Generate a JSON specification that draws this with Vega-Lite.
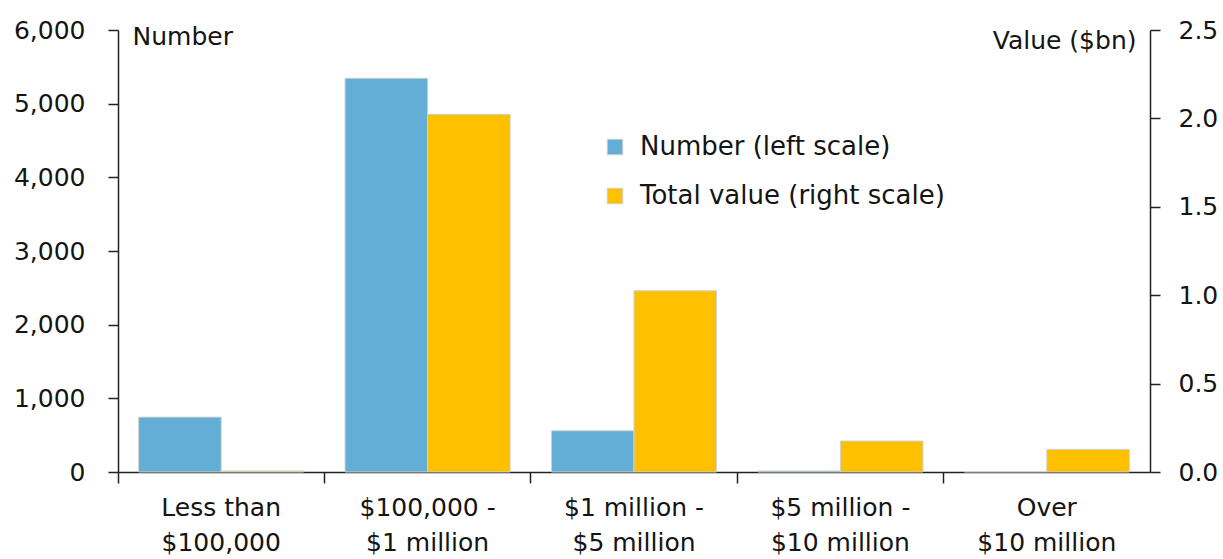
{
  "$schema": "https://vega.github.io/schema/vega-lite/v6.json",
  "autosize": "none",
  "width": 1032,
  "height": 442,
  "padding": {"left": 118, "top": 30, "right": 73, "bottom": 87},
  "background": "white",
  "config": {
    "font": "DejaVu Sans",
    "view": {"stroke": null},
    "axis": {
      "labelFont": "DejaVu Sans",
      "labelFontSize": 25,
      "labelColor": "#141414",
      "titleFont": "DejaVu Sans",
      "titleFontSize": 25,
      "titleFontWeight": "normal",
      "titleColor": "#141414",
      "domainColor": "#222222",
      "tickColor": "#222222",
      "domainWidth": 1.5,
      "tickWidth": 1.5,
      "grid": false
    }
  },
  "data": {
    "values": [
      {"category": "Less than $100,000", "series": "Number (left scale)", "number": 745},
      {"category": "$100,000 - $1 million", "series": "Number (left scale)", "number": 5345},
      {"category": "$1 million - $5 million", "series": "Number (left scale)", "number": 560},
      {"category": "$5 million - $10 million", "series": "Number (left scale)", "number": 15},
      {"category": "Over $10 million", "series": "Number (left scale)", "number": 6},
      {"category": "Less than $100,000", "series": "Total value (right scale)", "value": 0.006},
      {"category": "$100,000 - $1 million", "series": "Total value (right scale)", "value": 2.023},
      {"category": "$1 million - $5 million", "series": "Total value (right scale)", "value": 1.025},
      {"category": "$5 million - $10 million", "series": "Total value (right scale)", "value": 0.175},
      {"category": "Over $10 million", "series": "Total value (right scale)", "value": 0.128}
    ]
  },
  "encoding": {
    "x": {
      "field": "category",
      "type": "nominal",
      "sort": null,
      "scale": {"paddingInner": 0, "paddingOuter": 0},
      "axis": {
        "title": null,
        "labelAngle": 0,
        "bandPosition": 0,
        "tickSize": 11,
        "labelPadding": 12,
        "labelLineHeight": 35,
        "labelBaseline": "top",
        "labelExpr": "[substring(datum.label, 0, lastindexof(datum.label, ' $')), substring(datum.label, lastindexof(datum.label, ' $') + 1)]"
      }
    },
    "xOffset": {
      "field": "series",
      "type": "nominal",
      "scale": {"paddingOuter": 0.25, "paddingInner": 0}
    },
    "color": {
      "field": "series",
      "type": "nominal",
      "scale": {
        "domain": ["Number (left scale)", "Total value (right scale)"],
        "range": ["#62aed6", "#ffc000"]
      },
      "legend": {
        "title": null,
        "orient": "none",
        "legendX": 484,
        "legendY": 104,
        "symbolType": "square",
        "symbolSize": 240,
        "symbolStrokeColor": "#d0d0d0",
        "symbolStrokeWidth": 1,
        "labelFont": "DejaVu Sans",
        "labelFontSize": 26,
        "labelColor": "#141414",
        "labelOffset": 12,
        "rowPadding": 23,
        "labelLimit": 500
      }
    }
  },
  "layer": [
    {
      "transform": [{"filter": "datum.series === 'Number (left scale)'"}],
      "mark": {"type": "bar", "stroke": "#d0d0d0", "strokeWidth": 1},
      "encoding": {
        "y": {
          "field": "number",
          "type": "quantitative",
          "scale": {"domain": [0, 6000], "nice": false},
          "axis": {
            "orient": "left",
            "values": [0, 1000, 2000, 3000, 4000, 5000, 6000],
            "format": ",d",
            "tickSize": 10,
            "labelPadding": 23,
            "title": "Number",
            "titleAngle": 0,
            "titleAlign": "left",
            "titleBaseline": "middle",
            "titleX": 14,
            "titleY": 6
          }
        }
      }
    },
    {
      "transform": [{"filter": "datum.series === 'Total value (right scale)'"}],
      "mark": {"type": "bar", "stroke": "#d0d0d0", "strokeWidth": 1},
      "encoding": {
        "y": {
          "field": "value",
          "type": "quantitative",
          "scale": {"domain": [0, 2.5], "nice": false},
          "axis": {
            "orient": "right",
            "values": [0, 0.5, 1, 1.5, 2, 2.5],
            "format": ".1f",
            "tickSize": 10,
            "labelPadding": 18,
            "title": "Value ($bn)",
            "titleAngle": 0,
            "titleAlign": "right",
            "titleBaseline": "middle",
            "titleX": -14,
            "titleY": 10
          }
        }
      }
    }
  ],
  "resolve": {"scale": {"y": "independent"}}
}
